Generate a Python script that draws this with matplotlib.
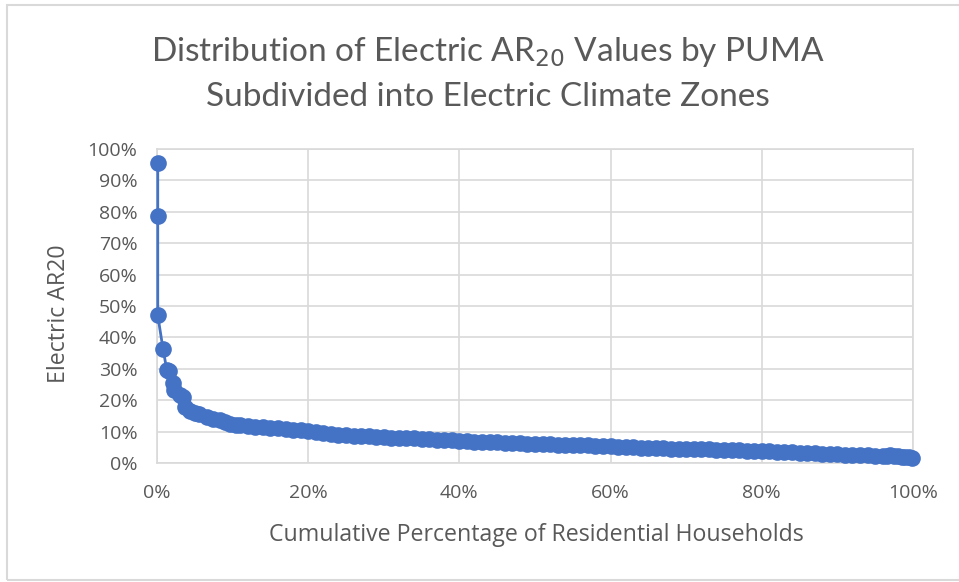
import matplotlib.pyplot as plt
from matplotlib.patches import Rectangle
from matplotlib.ticker import PercentFormatter, MultipleLocator

plt.rcParams['font.family'] = ['Open Sans', 'DejaVu Sans']

# cumulative share of households (%) and electric AR20 (%)
cum_pct = [0.1, 0.1, 0.1, 0.8, 1.3, 1.6, 2.1, 2.2, 3.0, 3.4, 3.7, 4.4, 5.0, 5.6,
           6.6, 7.4, 8.3, 9.0, 9.7, 10.5, 11, 12, 13, 14, 15, 16, 17, 18, 19, 20,
           21, 22, 23, 24, 25, 26, 27, 28, 29, 30, 31, 32, 33, 34, 35, 36, 37,
           38, 39, 40, 41, 42, 43, 44, 45, 46, 47, 48, 49, 50, 51, 52, 53, 54,
           55, 56, 57, 58, 59, 60, 61, 62, 63, 64, 65, 66, 67, 68, 69, 70, 71,
           72, 73, 74, 75, 76, 77, 78, 79, 80, 81, 82, 83, 84, 85, 86, 87, 88,
           89, 90, 91, 92, 93, 94, 95, 96, 96.5, 97, 97.5, 98, 98.5, 99, 99.5,
           99.9]
ar20 = [95.5, 78.8, 47.0, 36.3, 29.6, 29.4, 25.5, 23.2, 21.8, 21.0, 17.8, 16.6,
        16.0, 15.5, 14.6, 14.0, 13.7, 12.9, 12.3, 12.2, 12.0, 11.8, 11.6, 11.4,
        11.2, 11.0, 10.8, 10.6, 10.4, 10.1, 9.8, 9.5, 9.2, 9.0, 8.8, 8.7, 8.6,
        8.5, 8.4, 8.2, 8.1, 8.0, 7.9, 7.8, 7.6, 7.5, 7.4, 7.3, 7.2, 7.0, 6.9,
        6.8, 6.8, 6.7, 6.6, 6.5, 6.4, 6.3, 6.2, 6.1, 6.0, 5.9, 5.8, 5.8, 5.7,
        5.6, 5.6, 5.5, 5.4, 5.3, 5.2, 5.1, 5.0, 4.9, 4.8, 4.7, 4.7, 4.6, 4.5,
        4.5, 4.4, 4.3, 4.3, 4.2, 4.1, 4.1, 4.0, 3.9, 3.9, 3.8, 3.7, 3.6, 3.5,
        3.4, 3.3, 3.2, 3.1, 3.0, 2.9, 2.8, 2.7, 2.6, 2.5, 2.4, 2.3, 2.2, 2.2,
        2.4, 2.3, 2.2, 2.0, 1.9, 1.8, 1.7]

grey = '#595959'
blue = '#4472C4'

fig = plt.figure(figsize=(9.59, 5.82), dpi=100)
fig.patches.append(Rectangle((0.007, 0.003), 1.1, 0.988, transform=fig.transFigure,
                             fill=False, edgecolor='#D9D9D9', lw=1.5))
ax = fig.add_axes([0.1637, 0.2045, 0.7883, 0.5395])

ax.plot(cum_pct, ar20, color=blue, lw=2.0, marker='o', markersize=12,
        markeredgewidth=0, zorder=3, clip_on=False)

ax.set_xlim(0, 100)
ax.set_ylim(0, 100)
ax.xaxis.set_major_locator(MultipleLocator(20))
ax.yaxis.set_major_locator(MultipleLocator(10))
ax.xaxis.set_major_formatter(PercentFormatter(decimals=0))
ax.yaxis.set_major_formatter(PercentFormatter(decimals=0))
ax.grid(True, color='#D9D9D9', lw=1.2)
ax.set_axisbelow(True)
for s in ax.spines.values():
    s.set_color('#D9D9D9')
    s.set_linewidth(1.2)
ax.tick_params(length=0, labelsize=14, colors=grey)
ax.tick_params(axis='x', pad=15)
ax.tick_params(axis='y', pad=14)

# axis titles
fig.text(0.5594, 0.0808, 'Cumulative Percentage of Residential Households',
         ha='center', va='center', fontsize=16.7, color=grey)
fig.text(0.0615, 0.4605, 'Electric AR20', rotation=90,
         ha='center', va='center', fontsize=16.7, color=grey)

# chart title
fig.text(0.509, 0.91, r'Distribution of Electric AR$_{20}$ Values by PUMA',
         ha='center', va='center', fontsize=24, color=grey, family='Lato')
fig.text(0.509, 0.833, 'Subdivided into Electric Climate Zones',
         ha='center', va='center', fontsize=24, color=grey, family='Lato')

fig.savefig('out.png', dpi=100)
